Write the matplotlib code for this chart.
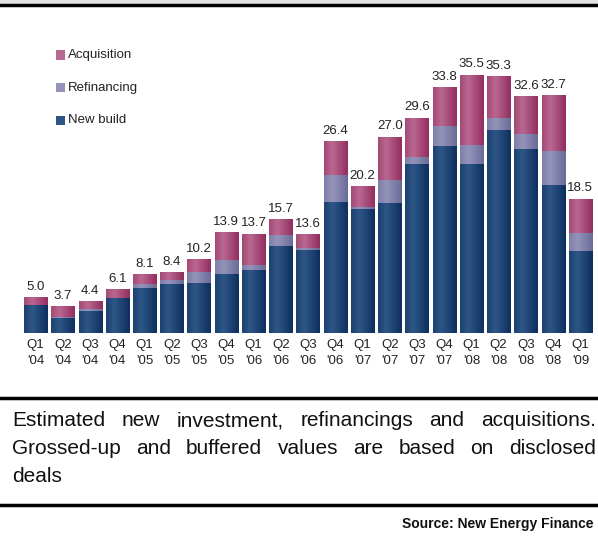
import matplotlib
matplotlib.use("Agg")
import numpy as np
import matplotlib.pyplot as plt
from matplotlib.patches import Rectangle
from matplotlib.lines import Line2D
from matplotlib.colors import LinearSegmentedColormap

quarters = ["Q1\n'04", "Q2\n'04", "Q3\n'04", "Q4\n'04", "Q1\n'05", "Q2\n'05", "Q3\n'05", "Q4\n'05",
            "Q1\n'06", "Q2\n'06", "Q3\n'06", "Q4\n'06", "Q1\n'07", "Q2\n'07", "Q3\n'07", "Q4\n'07",
            "Q1\n'08", "Q2\n'08", "Q3\n'08", "Q4\n'08", "Q1\n'09"]
new_build = [3.9, 2.15, 3.07, 4.9, 6.27, 6.78, 6.9, 8.15, 8.7, 12.0, 11.45,
             18.0, 17.1, 17.9, 23.3, 25.7, 23.3, 27.9, 25.3, 20.4, 11.3]
refinancing = [0.0, 0.05, 0.27, 0.0, 0.5, 0.6, 1.5, 1.97, 0.69, 1.5, 0.32,
               3.7, 0.27, 3.16, 0.87, 2.8, 2.6, 1.7, 2.1, 4.6, 2.5]
totals = [5.0, 3.7, 4.4, 6.1, 8.1, 8.4, 10.2, 13.9, 13.7, 15.7, 13.6,
          26.4, 20.2, 27.0, 29.6, 33.8, 35.5, 35.3, 32.6, 32.7, 18.5]
acquisition = [t - n - r for t, n, r in zip(totals, new_build, refinancing)]

caption_lines = ["Estimated new investment, refinancings and acquisitions.",
                 "Grossed-up and buffered values are based on disclosed",
                 "deals"]
source = "Source: New Energy Finance"

# (edge, centre) shades for the horizontal bar gradient
c_new = ("#0e2f60", "#2d5686")
c_ref = ("#6b6b99", "#9494ba")
c_acq = ("#932d60", "#b96891")

plt.rcParams["font.family"] = ["Liberation Sans", "DejaVu Sans"]

W, H = 598, 537
fig = plt.figure(figsize=(W / 100, H / 100), dpi=100)

# top band and rules
fig.add_artist(Rectangle((0, 1 - 4 / H), 1, 4 / H, transform=fig.transFigure, color="#e2e2e2", lw=0))
for yy in (5, 398, 505):
    fig.add_artist(Line2D([0, 1], [1 - yy / H] * 2, transform=fig.transFigure, color="black", lw=2.5))

ax = fig.add_axes([22 / W, 1 - 333.3 / H, 572 / W, 291.2 / H])
x = list(range(len(quarters)))
bw = 0.85
bottoms = [n + r for n, r in zip(new_build, refinancing)]
series = [(new_build, [0] * len(x), c_new, "New build"),
          (refinancing, new_build, c_ref, "Refinancing"),
          (acquisition, bottoms, c_acq, "Acquisition")]
grad = np.abs(np.linspace(0, 1, 64) - 0.35)
grad = (grad / grad.max())[None, :]
for vals, bot, cols, lab in series:
    cmap = LinearSegmentedColormap.from_list(lab, [cols[1], cols[0]])
    bars = ax.bar(x, vals, bw, bottom=bot, color=cols[1], label=lab, lw=0)
    for b in bars:
        if b.get_height() <= 0:
            continue
        x0b, y0b = b.get_x(), b.get_y()
        im = ax.imshow(grad, cmap=cmap, vmin=0, vmax=1, aspect="auto", interpolation="bilinear",
                       extent=(x0b, x0b + b.get_width(), y0b, y0b + b.get_height()), zorder=b.get_zorder())
        im.set_clip_path(b)

for i, t in enumerate(totals):
    ax.text(i, t + 0.6, f"{t:.1f}", ha="center", va="bottom", fontsize=9.5, color="#222222")
ax.set_xlim(-0.5, len(quarters) - 0.5)
ax.set_ylim(0, 40)
ax.set_xticks(x)
ax.set_xticklabels(quarters, fontsize=9.5, color="#222222", linespacing=1.45)
ax.tick_params(axis="x", length=0, pad=4)
ax.set_yticks([])
for sp in ax.spines.values():
    sp.set_visible(False)

# legend
for k, (lab, cols) in enumerate([("Acquisition", c_acq), ("Refinancing", c_ref), ("New build", c_new)]):
    yy = 55 + k * 32.5
    fig.add_artist(Rectangle((56 / W, 1 - (yy + 4.5) / H), 9 / W, 9 / H,
                             transform=fig.transFigure, color=cols[1], lw=0))
    fig.text(68 / W, 1 - yy / H, lab, fontsize=9.5, va="center", color="#222222")

# justified caption
renderer = fig.canvas.get_renderer()
fs = 15
x0, x1 = 12, 596
sp1 = fig.text(0, 0, "a a", fontsize=fs)
sp2 = fig.text(0, 0, "aa", fontsize=fs)
space = sp1.get_window_extent(renderer).width - sp2.get_window_extent(renderer).width
sp1.remove()
sp2.remove()
for li, line in enumerate(caption_lines):
    yy = 421 + li * 27.5
    texts = [fig.text(0, 1 - yy / H, w, fontsize=fs, va="center", color="#111111") for w in line.split()]
    widths = [t.get_window_extent(renderer).width for t in texts]
    last = li == len(caption_lines) - 1
    gap = space if last or len(texts) == 1 else max(space * 0.5, (x1 - x0 - sum(widths)) / (len(texts) - 1))
    xx = x0
    for t, wd in zip(texts, widths):
        t.set_x(xx / W)
        xx += wd + gap

fig.text(594 / W, 1 - 524 / H, source, fontsize=10, fontweight="bold",
         ha="right", va="center", color="#111111")

fig.savefig("out.png", dpi=100)
